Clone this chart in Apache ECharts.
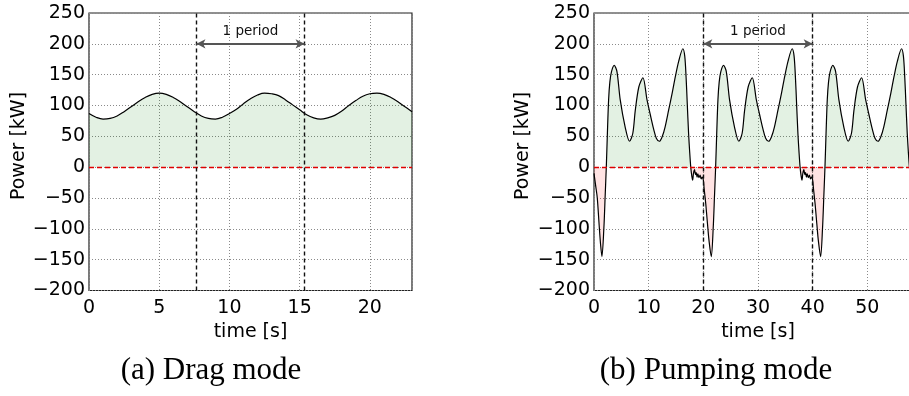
<!DOCTYPE html>
<html>
<head>
<meta charset="utf-8">
<script src="https://cdn.jsdelivr.net/npm/echarts@6/dist/echarts.min.js"></script>
<style>
  html, body { margin: 0; padding: 0; background: #fff; }
  #chart { width: 909px; height: 396px; }
</style>
</head>
<body>
<div id="chart"></div>
<script>
// (a) drag mode: time [s] and power [kW]
const dragTime = [0, 0.5, 1, 1.5, 2, 2.5, 3, 3.5, 4, 4.5, 5, 5.5, 6, 6.5, 7, 7.5, 8, 8.5, 9, 9.5,
  10, 10.5, 11, 11.5, 12, 12.5, 13, 13.5, 14, 14.5, 15, 15.5, 16, 16.5, 17, 17.5, 18, 18.5, 19, 19.5,
  20, 20.5, 21, 21.5, 22, 22.5, 23]
const dragPower = [87, 81, 78, 79, 83, 90, 98, 106, 113, 118, 120, 118, 113, 106, 98, 90, 83, 79, 78, 81,
  87, 94, 103, 111, 117, 120, 119, 116, 109, 101, 93, 85, 80, 78, 80, 84, 91, 100, 108, 115,
  119, 120, 118, 113, 106, 98, 90]

// (b) pumping mode: time [s] and power [kW]
const pumpTime = [
  0, 0.3, 0.6, 0.95, 1.2, 1.45, 1.8, 2.05, 2.25, 2.45, 2.67, 2.9, 3.2, 3.7, 4.2, 4.8, 5.7, 6.5, 7.1, 7.55,
  8.2, 8.95, 9.7, 10.3, 10.9, 11.4, 11.95, 12.5, 13.0, 13.64, 14.3, 14.86, 15.5, 16.25, 16.6, 16.85, 17.05, 17.3, 17.5, 17.7,
  17.9, 18.05, 18.2, 18.4, 18.55, 18.7, 18.85, 19.0, 19.2, 19.4, 19.6, 19.8, 20.0,
  20.15, 20.45, 20.75, 21.05, 21.45, 21.8, 22.05, 22.25, 22.45, 22.67, 22.9, 23.2, 23.7, 24.2, 24.8, 25.7, 26.5, 27.1, 27.55, 28.2,
  28.95, 29.7, 30.3, 30.9, 31.4, 31.95, 32.5, 33.0, 33.64, 34.3, 34.86, 35.5, 36.25, 36.6, 36.85, 37.05, 37.3, 37.5, 37.7, 37.9,
  38.05, 38.2, 38.4, 38.55, 38.7, 38.85, 39.0, 39.2, 39.4, 39.6, 39.8, 40.0,
  40.15, 40.45, 40.75, 41.05, 41.45, 41.8, 42.05, 42.25, 42.45, 42.67, 42.9, 43.2, 43.7, 44.2, 44.8, 45.7, 46.5, 47.1, 47.55, 48.2,
  48.95, 49.7, 50.3, 50.9, 51.4, 51.95, 52.5, 53.0, 53.64, 54.3, 54.86, 55.5, 56.25, 56.6, 56.85, 57.05, 57.3, 57.5, 57.7, 57.9,
  58.05]
const pumpPower = [
  -10, -30, -50, -95, -125, -145, -100, -45, 0, 55, 109, 138, 155, 165, 155, 109, 65, 42, 55, 92,
  130, 145, 109, 85, 62, 47, 42, 50, 65, 92, 120, 146, 172, 192, 180, 145, 105, 55, 25, 0,
  -15, -21, -10, -4, -12, -9, -16, -11, -17, -13, -19, -16, -21,
  -35, -60, -91, -120, -145, -100, -45, 0, 55, 109, 138, 155, 165, 155, 109, 65, 42, 55, 92, 130,
  145, 109, 85, 62, 47, 42, 50, 65, 92, 120, 146, 172, 192, 180, 145, 105, 55, 25, 0, -15,
  -21, -10, -4, -12, -9, -16, -11, -17, -13, -19, -16, -21,
  -35, -60, -91, -120, -145, -100, -45, 0, 55, 109, 138, 155, 165, 155, 109, 65, 42, 55, 92, 130,
  145, 109, 85, 62, 47, 42, 50, 65, 92, 120, 146, 172, 192, 180, 145, 105, 55, 25, 0, -15,
  -21]

// period markers [start, end] in seconds
const dragPeriod = [7.65, 15.35]
const pumpPeriod = [20, 40]

const captions = ['(a) Drag mode', '(b) Pumping mode']

const chart = echarts.init(document.getElementById('chart'))

const minusFmt = (v) => String(v).replace('-', '\u2212')
const tickFont = { fontFamily: 'DejaVu Sans', fontSize: 19, color: '#000' }

function makeX(gridIndex, max, interval) {
  return {
    type: 'value', gridIndex, min: 0, max, interval,
    axisLine: { show: false },
    axisTick: { show: false },
    axisLabel: { ...tickFont, margin: 8, formatter: minusFmt, showMaxLabel: false },
    splitLine: { show: true, lineStyle: { color: '#8a8a8a', type: [1, 2], width: 1 } },
    name: 'time [s]', nameLocation: 'middle', nameGap: 26,
    nameTextStyle: { fontFamily: 'DejaVu Sans', fontSize: 19, color: '#000' },
  }
}

function makeY(gridIndex) {
  return {
    type: 'value', gridIndex, min: -200, max: 250, interval: 50,
    axisLine: { show: false },
    axisTick: { show: false },
    axisLabel: { ...tickFont, margin: 4, formatter: minusFmt },
    splitLine: { show: true, lineStyle: { color: '#8a8a8a', type: [1, 2], width: 1 } },
  }
}

// 零线、周期虚线和箭头
function periodMarks(period) {
  const vLine = { color: '#111', type: [4, 3], width: 1.4 }
  return {
    silent: true, animation: false, symbol: 'none', precision: 3,
    data: [
      { yAxis: 0, lineStyle: { color: '#e00000', type: [5, 3], width: 1.4 }, label: { show: false } },
      { xAxis: period[0], lineStyle: vLine, label: { show: false } },
      { xAxis: period[1], lineStyle: vLine, label: { show: false } },
      [
        {
          coord: [period[0], 200], symbol: 'arrow', symbolSize: [7, 9],
          lineStyle: { color: '#555', type: 'solid', width: 2 },
          label: {
            show: true, position: 'middle', formatter: '1 period', distance: 5,
            fontFamily: 'DejaVu Sans', fontSize: 13.5, color: '#111',
          },
        },
        { coord: [period[1], 200], symbol: 'arrow', symbolSize: [7, 9] },
      ],
    ],
  }
}

const option = {
  animation: false,
  backgroundColor: '#fff',
  grid: [
    { left: 89, width: 323, top: 13, height: 277.5, show: true, borderColor: '#222', borderWidth: 1.2, outerBoundsMode: 'none' },
    // right panel runs to t = 60, past the page edge
    { left: 594, width: 328, top: 13, height: 277.5, show: true, borderColor: '#222', borderWidth: 1.2, outerBoundsMode: 'none' },
  ],
  xAxis: [makeX(0, 23, 5), makeX(1, 60, 10)],
  yAxis: [makeY(0), makeY(1)],
  visualMap: {
    show: false, seriesIndex: 1, dimension: 1,
    pieces: [
      { gt: 0, lte: 400, color: 'rgba(0,128,0,0.11)' },
      { gt: -400, lte: 0, color: 'rgba(255,0,0,0.11)' },
    ],
  },
  series: [
    {
      type: 'line', xAxisIndex: 0, yAxisIndex: 0,
      data: dragTime.map((t, i) => [t, dragPower[i]]),
      smooth: 0.4, showSymbol: false,
      lineStyle: { color: '#000', width: 1.2 },
      areaStyle: { color: 'rgba(0,128,0,0.11)', opacity: 1 },
      markLine: periodMarks(dragPeriod),
    },
    {
      type: 'line', xAxisIndex: 1, yAxisIndex: 1,
      data: pumpTime.map((t, i) => [t, pumpPower[i]]),
      smooth: 0.3, showSymbol: false,
      lineStyle: { color: '#000', width: 1.2 },
      areaStyle: { opacity: 1 },
      markLine: periodMarks(pumpPeriod),
    },
  ],
  graphic: [
    {
      type: 'text', x: 19.5, y: 146, rotation: Math.PI / 2,
      style: { text: 'Power [kW]', fontFamily: 'DejaVu Sans', fontSize: 19, fill: '#000', align: 'center', verticalAlign: 'middle' },
    },
    {
      type: 'text', x: 523.5, y: 146, rotation: Math.PI / 2,
      style: { text: 'Power [kW]', fontFamily: 'DejaVu Sans', fontSize: 19, fill: '#000', align: 'center', verticalAlign: 'middle' },
    },
    {
      type: 'text', x: 211, y: 371,
      style: { text: captions[0], fontFamily: 'Liberation Serif', fontSize: 31, fill: '#000', align: 'center', verticalAlign: 'middle' },
    },
    {
      type: 'text', x: 716, y: 371,
      style: { text: captions[1], fontFamily: 'Liberation Serif', fontSize: 31, fill: '#000', align: 'center', verticalAlign: 'middle' },
    },
  ],
}

chart.setOption(option)
</script>
</body>
</html>
